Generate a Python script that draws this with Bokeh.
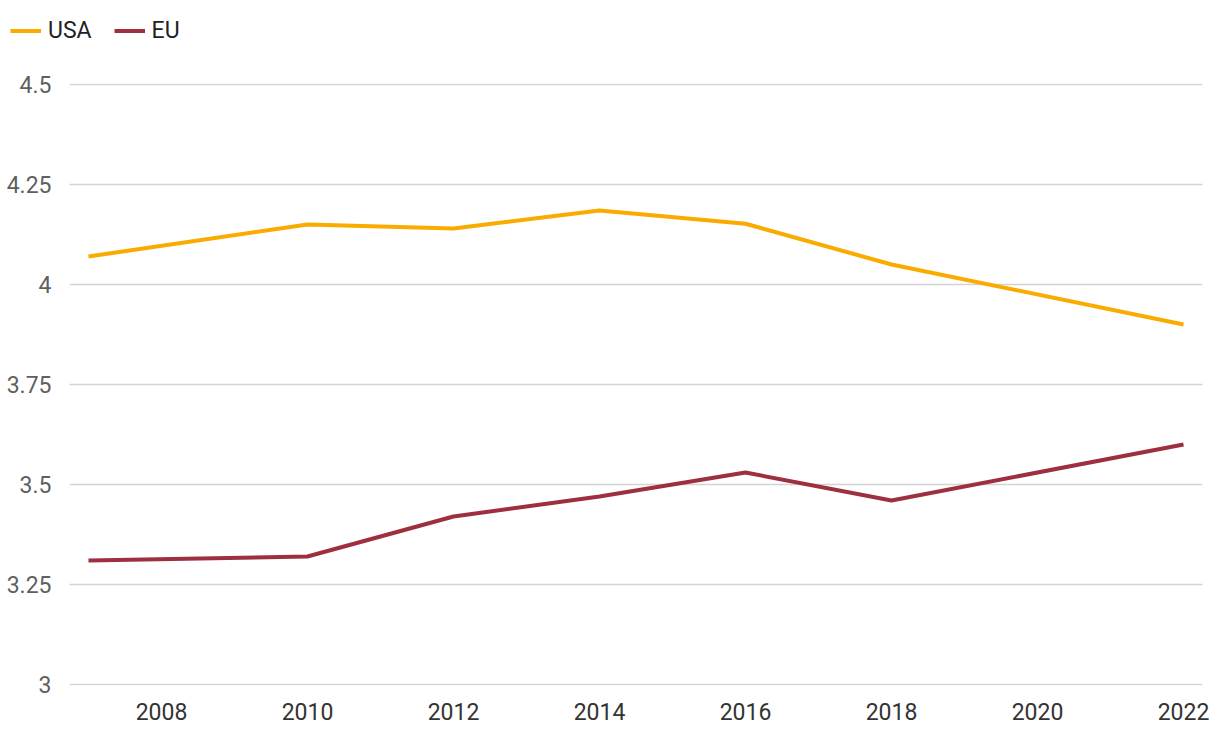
from bokeh.plotting import figure
from bokeh.layouts import column
from bokeh.models import (ColumnDataSource, FixedTicker, NumeralTickFormatter,
                          Legend, LegendItem, Range1d)
from bokeh.embed import file_html
from bokeh.resources import INLINE

years = [2007, 2010, 2012, 2014, 2016, 2018, 2022]
usa = [4.07, 4.15, 4.14, 4.185, 4.152, 4.05, 3.90]
eu = [3.31, 3.32, 3.42, 3.47, 3.53, 3.46, 3.60]
series_names = ["USA", "EU"]
series_keys = ["usa", "eu"]
series_colors = ["#F9AB00", "#9E2F3F"]
x_ticks = [2008, 2010, 2012, 2014, 2016, 2018, 2020, 2022]
y_ticks = [3, 3.25, 3.5, 3.75, 4, 4.25, 4.5]

src = ColumnDataSource(dict(year=years, usa=usa, eu=eu))

FONT = "Roboto"
W = 1212

# ---- legend strip on top (its own frame; series fall outside its range) ----
lg = figure(width=W, height=60, output_backend="svg", toolbar_location=None,
            x_range=Range1d(0, 1), y_range=Range1d(0, 1),
            x_axis_location=None, y_axis_location=None,
            min_border_left=0, min_border_right=0, min_border_top=0,
            min_border_bottom=0)
lg.frame_align = False
lg.outline_line_color = None
lg.grid.visible = False
key_renderers = [lg.line("year", k, source=src, line_color=c, line_width=4)
                 for k, c in zip(series_keys, series_colors)]
legend = Legend(items=[LegendItem(label=n, renderers=[r])
                       for n, r in zip(series_names, key_renderers)],
                orientation="horizontal", location="left",
                label_text_font=FONT, label_text_font_size="23px",
                label_text_color="#222222", glyph_width=31, glyph_height=24,
                label_standoff=7, spacing=22, padding=0, margin=10,
                border_line_color=None, background_fill_alpha=0)
lg.add_layout(legend, "center")

# ---- main chart ----
p = figure(width=W, height=666, output_backend="svg", toolbar_location=None,
           x_range=Range1d(2006.74, 2022.26), y_range=Range1d(2.9975, 4.5025),
           min_border_left=69, min_border_right=10, min_border_top=23,
           min_border_bottom=41)
p.frame_align = False
p.outline_line_color = None
p.background_fill_color = "white"
p.border_fill_color = "white"

for k, c in zip(series_keys, series_colors):
    p.line("year", k, source=src, line_color=c, line_width=4)

p.xgrid.grid_line_color = None
p.ygrid.grid_line_color = "#d3d3d3"
p.ygrid.grid_line_width = 1.6

p.xaxis.ticker = FixedTicker(ticks=x_ticks)
p.yaxis.ticker = FixedTicker(ticks=y_ticks)
p.yaxis.formatter = NumeralTickFormatter(format="0.[00]")
for ax in (p.xaxis, p.yaxis):
    ax.axis_line_color = None
    ax.major_tick_line_color = None
    ax.minor_tick_line_color = None
    ax.major_label_text_font = FONT
    ax.major_label_text_font_size = "23px"
p.yaxis.major_label_text_color = "#5f5f5f"
p.xaxis.major_label_text_color = "#333333"
p.yaxis.major_label_standoff = 12
p.xaxis.major_label_standoff = 11

layout = column(lg, p, spacing=0)
open("out.html", "w").write(file_html(layout, INLINE))
